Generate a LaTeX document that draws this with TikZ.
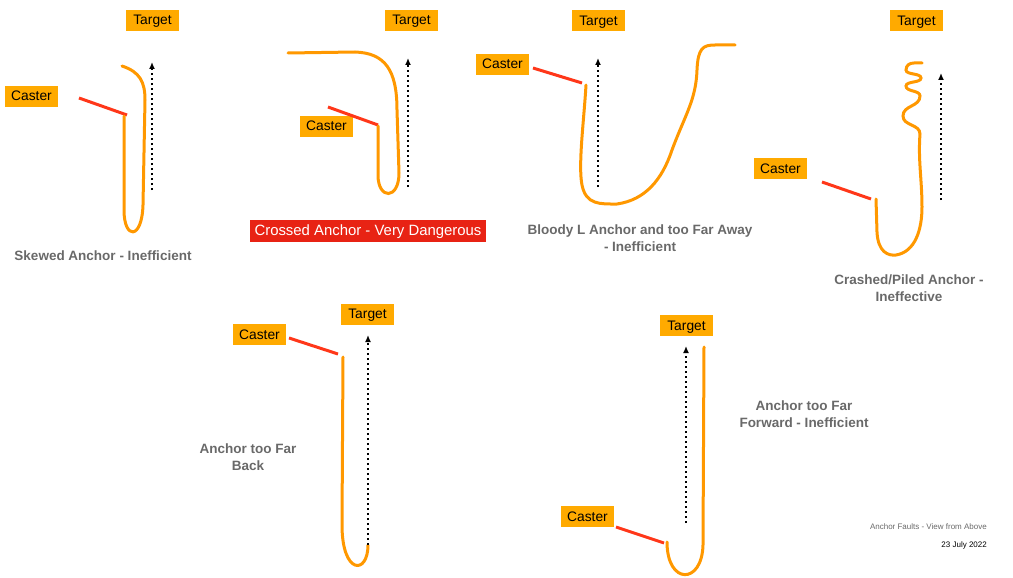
\documentclass[tikz,border=0pt]{standalone}
\usepackage{fontspec}
\setmainfont{Liberation Sans}
\usetikzlibrary{arrows.meta, positioning}

\definecolor{tagorange}{RGB}{255,170,0}
\definecolor{ropeorange}{RGB}{255,152,0}
\definecolor{casterred}{RGB}{255,55,25}
\definecolor{warnred}{RGB}{232,35,20}
\definecolor{captiongray}{RGB}{105,105,105}

\begin{document}
\begin{tikzpicture}[
    x=1pt, y=-1pt,
    tag/.style={rectangle, fill=tagorange, minimum width=53pt, minimum height=21pt, inner sep=0pt, text height=10.5pt, text depth=1.5pt, font=\fontsize{13.8}{16}\selectfont},
    warn/.style={rectangle, fill=warnred, text=white, minimum width=236pt, minimum height=22pt, inner sep=0pt, text height=11pt, text depth=1.5pt, font=\fontsize{14.9}{17}\selectfont},
    caption/.style={align=center, text=captiongray, inner sep=0pt, font=\fontsize{13.5}{17}\selectfont\bfseries},
    note/.style={anchor=east, inner sep=0pt, font=\fontsize{8}{10}\selectfont},
    rope/.style={draw=ropeorange, line width=3pt, line cap=round},
    cast/.style={draw=casterred, line width=3pt},
    course/.style={-{Latex[length=7pt, width=6pt]}, line width=1.6pt, dash pattern=on 1.6pt off 3.4pt},
]
\useasboundingbox (0,0) rectangle (1013,578);

% Skewed Anchor
\node[tag] (target1) at (152.5,20.5) {Target};
\node[tag] (caster1) at (31.5,96.5) {Caster};
\coordinate (run1) at (152,190);
\coordinate (aim1) at (152,62);
\draw[cast] (79,98) -- (127,115);
\draw[rope] (122,66) .. controls (140,72) and (145,82) .. (145,100) -- (143,205)
    .. controls (142,240) and (124,240) .. (124,210) -- (124,116);
\draw[course] (run1) -- (aim1);
\node[caption] (skewed) at (103,256) {Skewed Anchor - Inefficient};

% Crossed Anchor
\node[tag] (target2) at (411.5,20.5) {Target};
\node[tag] (caster2) at (326.5,126.5) {Caster};
\coordinate (run2) at (408,187);
\coordinate (aim2) at (408,58);
\draw[cast] (328,107) -- (378,125);
\draw[rope] (288,53) -- (355,52) .. controls (385,53) and (397,70) .. (397,110) -- (399,173)
    .. controls (399,200) and (378,200) .. (378,175) -- (378,126);
\draw[course] (run2) -- (aim2);
\node[warn] (crossed) at (368,230.5) {Crossed Anchor - Very Dangerous};

% Bloody L Anchor
\node[tag] (target3) at (598.5,21) {Target};
\node[tag] (caster3) at (502.5,64.5) {Caster};
\coordinate (run3) at (598,187);
\coordinate (aim3) at (598,58);
\draw[cast] (533,68) -- (582,83);
\draw[rope] (586,85) .. controls (584,120) and (578,165) .. (582,185)
    .. controls (586,205) and (600,204) .. (617,204)
    .. controls (645,200) and (662,180) .. (672,150)
    .. controls (685,115) and (696,100) .. (697,70)
    .. controls (698,48) and (703,45) .. (715,45) -- (735,45);
\draw[course] (run3) -- (aim3);
\node[caption] (bloody) at (640,238.5) {Bloody L Anchor and too Far Away\\- Inefficient};

% Crashed/Piled Anchor
\node[tag] (target4) at (916.5,21) {Target};
\node[tag] (caster4) at (780.5,168.5) {Caster};
\coordinate (run4) at (941,200);
\coordinate (aim4) at (941,73);
\draw[cast] (822,182) -- (871,199);
\draw[rope] (876,199) -- (877,232) .. controls (878,252) and (888,256) .. (896,255)
    .. controls (915,252) and (922,230) .. (922,207)
    .. controls (922,180) and (918,160) .. (920,134)
    .. controls (920,124) and (903,126) .. (903,116)
    .. controls (903,105) and (920,107) .. (920,96)
    .. controls (920,90) and (906,92) .. (906,86)
    .. controls (906,81) and (921,83) .. (921,78)
    .. controls (921,73) and (906,75) .. (906,70)
    .. controls (906,65) and (910,63) .. (914,63) -- (922,63);
\draw[course] (run4) -- (aim4);
\node[caption] (crashed) at (909,288) {Crashed/Piled Anchor -\\Ineffective};

% Anchor too Far Back
\node[tag] (target5) at (367.5,314) {Target};
\node[tag] (caster5) at (259.5,334.5) {Caster};
\coordinate (run5) at (368,545);
\coordinate (aim5) at (368,335);
\draw[cast] (289,338) -- (338,354);
\draw[rope] (343,357) -- (342,525) .. controls (342,575) and (368,575) .. (368,545);
\draw[course] (run5) -- (aim5);
\node[caption] (back) at (248,457) {Anchor too Far\\Back};

% Anchor too Far Forward
\node[tag] (target6) at (686.5,325.5) {Target};
\node[tag] (caster6) at (587.5,516.5) {Caster};
\coordinate (run6) at (686,523);
\coordinate (aim6) at (686,346);
\draw[cast] (616,527) -- (664,543);
\draw[rope] (667,542) .. controls (667,585) and (702,585) .. (703,545) -- (704,347);
\draw[course] (run6) -- (aim6);
\node[caption] (forward) at (804,414) {Anchor too Far\\Forward - Inefficient};

% footer
\node[note, text=captiongray] (title) at (987,527) {Anchor Faults - View from Above};
\node[note] (date) at (987,545) {23 July 2022};

\end{tikzpicture}
\end{document}
